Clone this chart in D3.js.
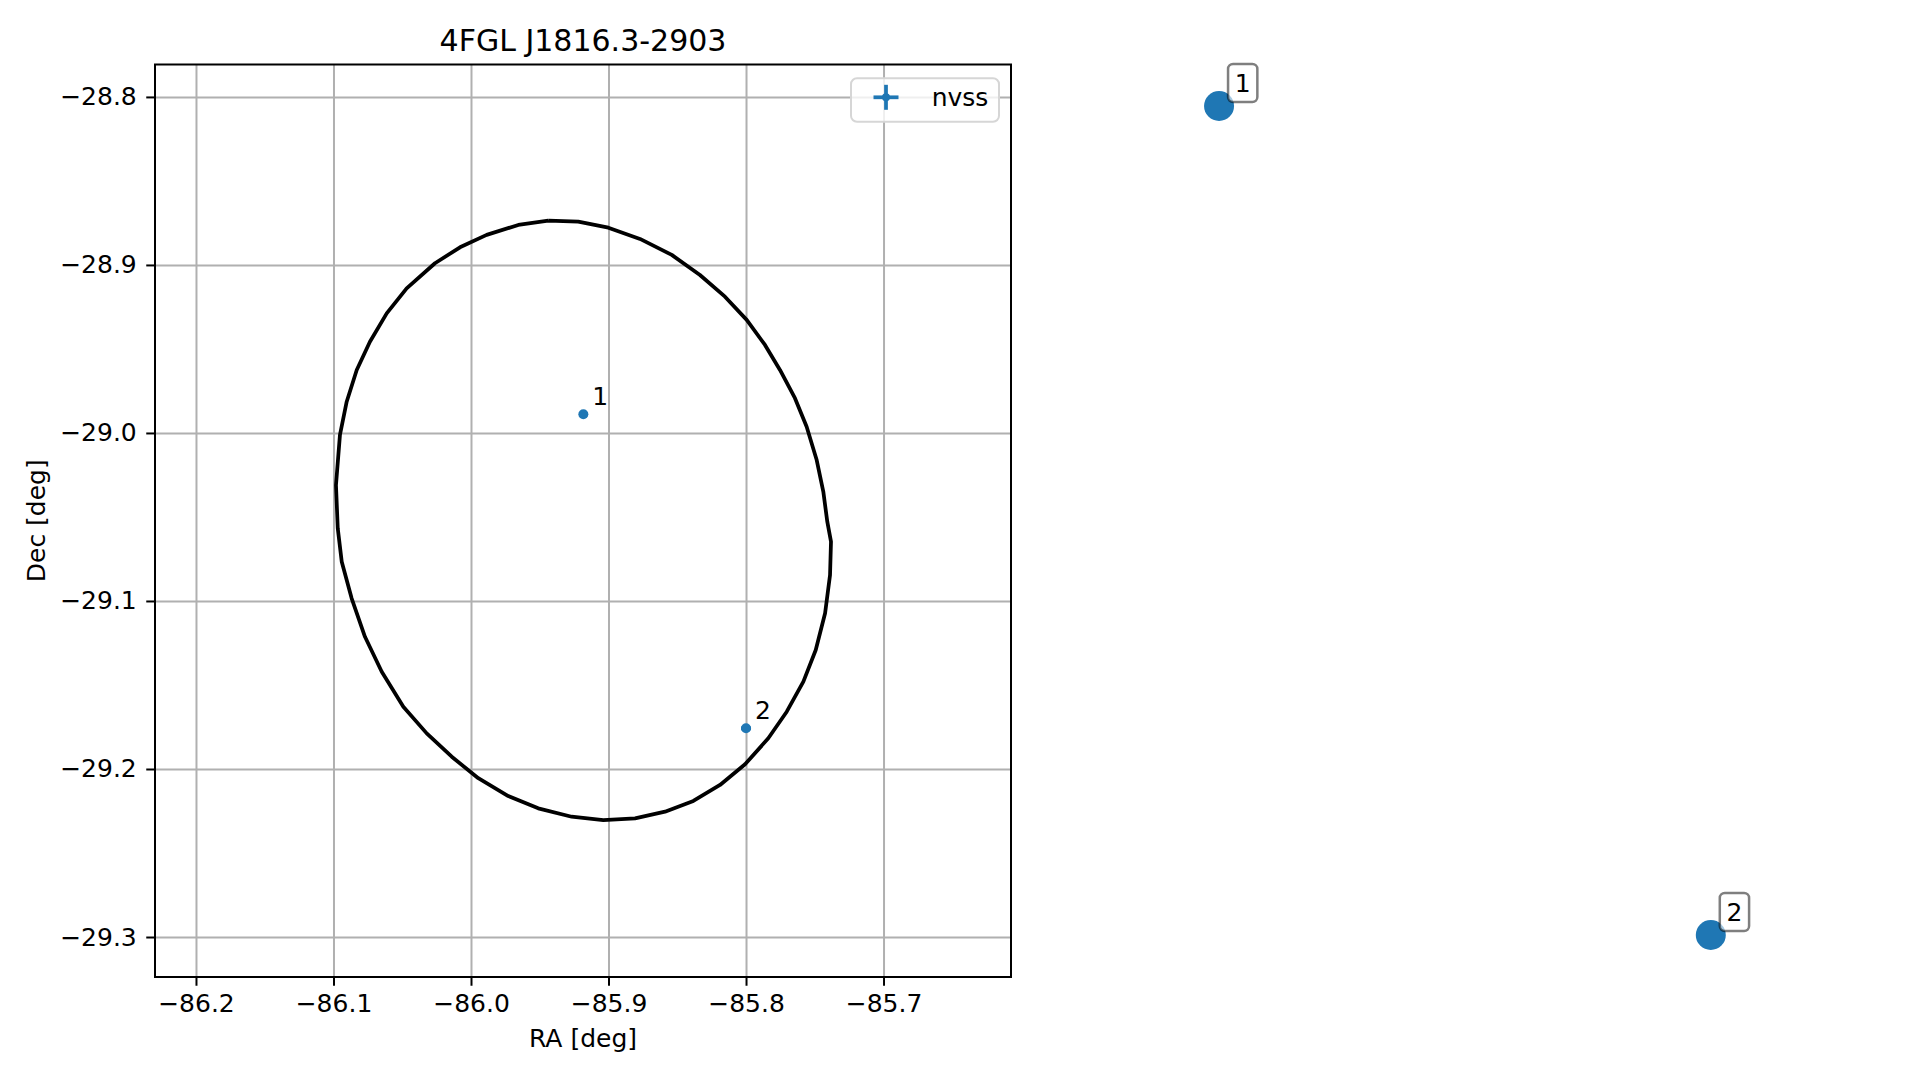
<!DOCTYPE html>
<html><head><meta charset="utf-8">
<script src="https://cdn.jsdelivr.net/npm/d3@7"></script>
<style>
body{margin:0;background:#fff}
text{font-family:"DejaVu Sans",sans-serif;fill:#000}
</style>
</head><body>
<svg id="c" width="1919" height="1080"></svg>
<script>
// ---------------- data ----------------
const title = "4FGL J1816.3-2903";
const xLabel = "RA [deg]";
const yLabel = "Dec [deg]";
const legendLabel = "nvss";
const xTicks = [-86.2, -86.1, -86.0, -85.9, -85.8, -85.7];
const xTickLabels = ["−86.2", "−86.1", "−86.0", "−85.9", "−85.8", "−85.7"];
const yTicks = [-28.8, -28.9, -29.0, -29.1, -29.2, -29.3];
const yTickLabels = ["−28.8", "−28.9", "−29.0", "−29.1", "−29.2", "−29.3"];
const xLimits = [-86.2298, -85.6073];
const yLimits = [-29.3238, -28.7807];

// NVSS sources
const srcLabels = ["1", "2"];
const srcRA = [-85.9183, -85.8000];
const srcDec = [-28.9889, -29.1758];
const srcRAErr = [0.0010, 0.0036];
const srcDecErr = [0.0008, 0.0006];

// 95% error ellipse outline (vertices)
const ellipseRA = [-85.9438, -85.9220, -85.9001, -85.8771, -85.8540, -85.8335, -85.8153, -85.7995, -85.7862, -85.7753,
  -85.7644, -85.7559, -85.7486, -85.7438, -85.7409, -85.7382, -85.7389, -85.7425, -85.7493, -85.7583,
  -85.7704, -85.7838, -85.8007, -85.8189, -85.8383, -85.8589, -85.8807, -85.9038, -85.9268, -85.9511,
  -85.9729, -85.9947, -86.0140, -86.0322, -86.0492, -86.0649, -86.0771, -86.0868, -86.0940, -86.0969,
  -86.0982, -86.0953, -86.0904, -86.0831, -86.0735, -86.0613, -86.0468, -86.0262, -86.0080, -85.9886,
  -85.9656, -85.9438];
const ellipseDec = [-28.8736, -28.8742, -28.8778, -28.8845, -28.8940, -28.9060, -28.9189, -28.9327, -28.9476, -28.9625,
  -28.9793, -28.9963, -29.0161, -29.0349, -29.0528, -29.0647, -29.0845, -29.1073, -29.1292, -29.1480,
  -29.1659, -29.1817, -29.1972, -29.2095, -29.2190, -29.2254, -29.2294, -29.2304, -29.2284, -29.2234,
  -29.2161, -29.2055, -29.1927, -29.1788, -29.1629, -29.1421, -29.1213, -29.0984, -29.0766, -29.0567,
  -29.0310, -29.0012, -28.9814, -28.9625, -28.9457, -28.9288, -28.9139, -28.8990, -28.8895, -28.8821,
  -28.8762, -28.8736];

// large annotated markers drawn outside the axes
const bigLabels = ["1", "2"];
const bigRA = [-85.4560, -85.0984];
const bigDec = [-28.8054, -29.2988];

// ---------------- drawing ----------------
const blue = "#1f77b4";
const FS = 25;
const L = 155, R = 1011, T = 64.5, B = 977;
const svg = d3.select("#c");
const x = d3.scaleLinear().domain(xLimits).range([L, R]);
const y = d3.scaleLinear().domain(yLimits).range([B, T]);

// grid
const grid = svg.append("g");
grid.append("g").attr("transform", `translate(0,${B})`)
  .call(d3.axisBottom(x).tickValues(xTicks).tickSize(-(B - T)).tickFormat(""))
  .call(g => { g.select(".domain").remove(); g.selectAll("line").attr("stroke", "#b0b0b0").attr("stroke-width", 2); });
grid.append("g").attr("transform", `translate(${L},0)`)
  .call(d3.axisLeft(y).tickValues(yTicks).tickSize(-(R - L)).tickFormat(""))
  .call(g => { g.select(".domain").remove(); g.selectAll("line").attr("stroke", "#b0b0b0").attr("stroke-width", 2); });

// ellipse
const ell = ellipseRA.map((r, i) => [r, ellipseDec[i]]);
svg.append("path")
  .attr("d", d3.line().x(d => x(d[0])).y(d => y(d[1]))(ell))
  .attr("fill", "none").attr("stroke", "#000").attr("stroke-width", 3.75).attr("stroke-linejoin", "round");

// sources with error bars
const src = srcRA.map((r, i) => ({ra: r, dec: srcDec[i], er: srcRAErr[i], ed: srcDecErr[i], lab: srcLabels[i]}));
const sg = svg.append("g");
sg.selectAll("line.ex").data(src).join("line")
  .attr("x1", d => x(d.ra - d.er)).attr("x2", d => x(d.ra + d.er))
  .attr("y1", d => y(d.dec)).attr("y2", d => y(d.dec))
  .attr("stroke", blue).attr("stroke-width", 3.75);
sg.selectAll("line.ey").data(src).join("line")
  .attr("x1", d => x(d.ra)).attr("x2", d => x(d.ra))
  .attr("y1", d => y(d.dec - d.ed)).attr("y2", d => y(d.dec + d.ed))
  .attr("stroke", blue).attr("stroke-width", 3.75);
sg.selectAll("circle").data(src).join("circle")
  .attr("cx", d => x(d.ra)).attr("cy", d => y(d.dec)).attr("r", 5).attr("fill", blue);
sg.selectAll("text").data(src).join("text")
  .attr("x", d => x(d.ra) + 9).attr("y", d => y(d.dec) - 9.3)
  .attr("font-size", FS).text(d => d.lab);

// spines + ticks
const xa = svg.append("g").attr("transform", `translate(0,${B})`)
  .call(d3.axisBottom(x).tickValues(xTicks).tickSize(8.75).tickPadding(8.75).tickFormat((d, i) => xTickLabels[i]));
const ya = svg.append("g").attr("transform", `translate(${L},0)`)
  .call(d3.axisLeft(y).tickValues(yTicks).tickSize(8.75).tickPadding(9.5).tickFormat((d, i) => yTickLabels[i]));
[xa, ya].forEach(a => {
  a.select(".domain").remove();
  a.selectAll("line").attr("stroke", "#000").attr("stroke-width", 2);
  a.selectAll("text").attr("font-size", FS).attr("font-family", "DejaVu Sans").attr("fill", "#000");
});
svg.append("rect").attr("x", L).attr("y", T).attr("width", R - L).attr("height", B - T)
  .attr("fill", "none").attr("stroke", "#000").attr("stroke-width", 2);

// title / labels
svg.append("text").attr("x", (L + R) / 2).attr("y", 51).attr("text-anchor", "middle")
  .attr("font-size", 30).text(title);
svg.append("text").attr("x", (L + R) / 2).attr("y", 1047).attr("text-anchor", "middle")
  .attr("font-size", FS).text(xLabel);
svg.append("text").attr("transform", `translate(45,${(T + B) / 2}) rotate(-90)`).attr("text-anchor", "middle")
  .attr("font-size", FS).text(yLabel);

// legend
const lg = svg.append("g").attr("transform", `translate(${R - 160},${T + 13.8})`);
lg.append("rect").attr("width", 148).attr("height", 43.4).attr("rx", 6)
  .attr("fill", "#fff").attr("fill-opacity", 0.8).attr("stroke", "#d6d6d6").attr("stroke-width", 2);
lg.append("line").attr("x1", 22.5).attr("x2", 47.5).attr("y1", 19).attr("y2", 19).attr("stroke", blue).attr("stroke-width", 3.75);
lg.append("line").attr("x1", 35).attr("x2", 35).attr("y1", 6.5).attr("y2", 31.5).attr("stroke", blue).attr("stroke-width", 3.75);
lg.append("circle").attr("cx", 35).attr("cy", 19).attr("r", 4).attr("fill", blue);
lg.append("text").attr("x", 80.7).attr("y", 28).attr("font-size", FS).text(legendLabel);

// big markers with boxed labels
const big = bigRA.map((r, i) => ({ra: r, dec: bigDec[i], lab: bigLabels[i]}));
const bg = svg.append("g");
bg.selectAll("circle").data(big).join("circle")
  .attr("cx", d => x(d.ra)).attr("cy", d => y(d.dec)).attr("r", 15).attr("fill", blue);
bg.selectAll("rect").data(big).join("rect")
  .attr("x", d => x(d.ra) + 9).attr("y", d => y(d.dec) - 42).attr("width", 29.3).attr("height", 38).attr("rx", 5)
  .attr("fill", "#fff").attr("fill-opacity", 0.6).attr("stroke", "#000").attr("stroke-opacity", 0.5).attr("stroke-width", 2.5);
bg.selectAll("text").data(big).join("text")
  .attr("x", d => x(d.ra) + 23.6).attr("y", d => y(d.dec) - 14).attr("text-anchor", "middle")
  .attr("font-size", FS).text(d => d.lab);
</script>
</body></html>
